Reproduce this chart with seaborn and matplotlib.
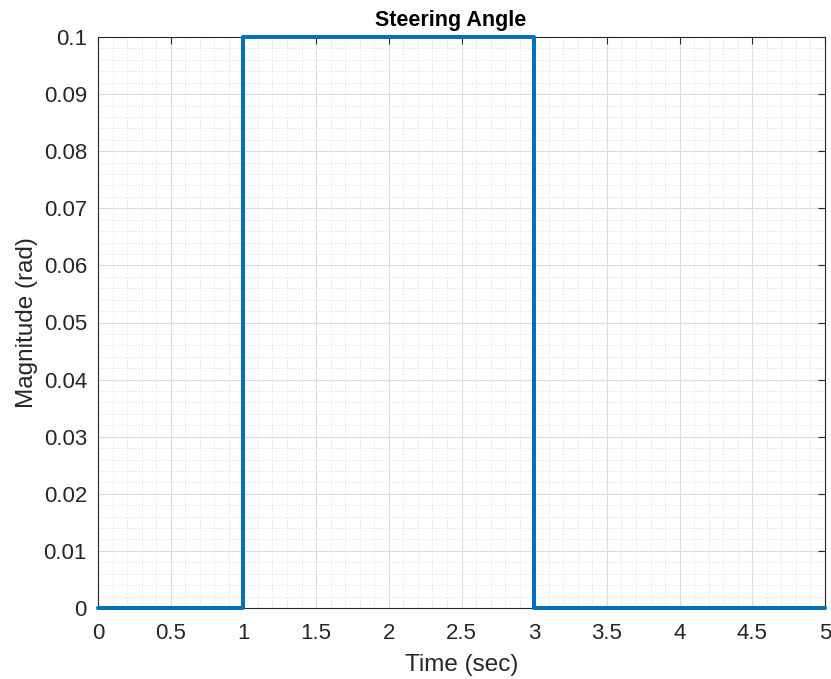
import matplotlib
matplotlib.use("Agg")
import matplotlib.pyplot as plt
import seaborn as sns
import pandas as pd
import numpy as np
from matplotlib.ticker import MultipleLocator

time_sec = [0, 1, 1, 3, 3, 5]
magnitude = [0, 0, 0.1, 0.1, 0, 0]
x_ticks = [0, 0.5, 1, 1.5, 2, 2.5, 3, 3.5, 4, 4.5, 5]
y_ticks = [0, 0.01, 0.02, 0.03, 0.04, 0.05, 0.06, 0.07, 0.08, 0.09, 0.1]
x_tick_labels = ["0", "0.5", "1", "1.5", "2", "2.5", "3", "3.5", "4", "4.5", "5"]
y_tick_labels = ["0", "0.01", "0.02", "0.03", "0.04", "0.05", "0.06", "0.07", "0.08", "0.09", "0.1"]

sns.set_style("white")
plt.rcParams['font.family'] = ['Liberation Sans', 'DejaVu Sans']

df = pd.DataFrame({"t": time_sec, "y": magnitude})

fig = plt.figure(figsize=(8.31, 6.79), dpi=100)
ax = fig.add_axes([98/831, 1-608/679, (825-98)/831, (608-37)/679])

sns.lineplot(data=df, x="t", y="y", ax=ax, color="#0072BD", linewidth=2.9,
             sort=False, estimator=None, clip_on=False, zorder=5)

ax.set_xlim(0, 5)
ax.set_ylim(0, 0.1)
ax.set_xticks(x_ticks)
ax.set_xticklabels(x_tick_labels)
ax.set_yticks(y_ticks)
ax.set_yticklabels(y_tick_labels)
ax.xaxis.set_minor_locator(MultipleLocator(0.1))
ax.yaxis.set_minor_locator(MultipleLocator(0.002))

ax.grid(which="major", color="#dcdcdc", linewidth=0.8, linestyle="-")
ax.grid(which="minor", color="#e2e2e2", linewidth=0.6, linestyle=(0, (2, 2)))
ax.set_axisbelow(True)

for s in ax.spines.values():
    s.set_visible(True)
    s.set_color("#262626")
    s.set_linewidth(0.8)

ax.tick_params(which="major", direction="in", length=5, width=0.8, color="#262626",
               top=True, right=True, labelsize=16, labelcolor="#262626")
ax.tick_params(axis="x", which="major", pad=11)
ax.tick_params(axis="y", which="major", pad=8)
ax.tick_params(which="minor", length=0)

ax.set_xlabel("Time (sec)", fontsize=17.5, color="#262626", labelpad=7)
ax.set_ylabel("Magnitude (rad)", fontsize=17.5, color="#262626", labelpad=4)
ax.set_title("Steering Angle", fontsize=15.5, fontweight="bold", color="black",
             pad=8, x=0.485)

fig.savefig("out.png", dpi=100)
